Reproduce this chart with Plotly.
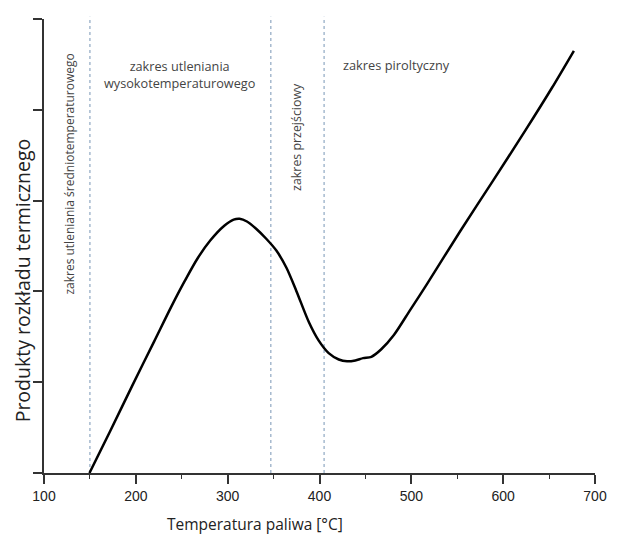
import plotly.graph_objects as go

# Data
temp = [149.5, 172, 196, 220, 238.5, 253, 267, 281, 296, 306.5, 313, 321, 331, 342, 353,
        364, 375, 388.5, 399, 410, 421, 430, 439, 447.5, 456.5, 467, 481, 499, 517,
        553, 589, 624, 653, 677]
prod = [0.0, 0.46, 0.96, 1.45, 1.83, 2.11, 2.36, 2.56, 2.72, 2.79, 2.80, 2.77, 2.69, 2.58, 2.45,
        2.26, 2.00, 1.66, 1.46, 1.32, 1.25, 1.23, 1.24, 1.265, 1.28, 1.36, 1.52, 1.80, 2.08,
        2.66, 3.22, 3.77, 4.24, 4.65]
zone_bounds = [150, 347, 405]
x_ticks = [100, 200, 300, 400, 500, 600, 700]

fig = go.Figure()
fig.add_trace(go.Scatter(x=temp, y=prod, mode="lines",
                         line=dict(color="black", width=2.5, shape="spline", smoothing=0.8),
                         cliponaxis=False, showlegend=False))

for xb in zone_bounds:
    fig.add_shape(type="line", x0=xb, x1=xb, y0=0, y1=1.005, xref="x", yref="paper",
                  line=dict(color="#8fa8c2", width=1.2, dash="dot"), layer="below")

grey = "#444444"
fig.add_annotation(x=69, y=174, text="zakres utleniania średniotemperaturowego",
                   showarrow=False, textangle=-90, font=dict(family="Open Sans", size=12, color=grey))
fig.add_annotation(x=182, y=74, text="zakres utleniania<br>wysokotemperaturowego",
                   showarrow=False, font=dict(family="Open Sans", size=12.7, color=grey))
fig.add_annotation(x=300, y=137, text="zakres przejściowy",
                   showarrow=False, textangle=-90, font=dict(family="Open Sans", size=12.4, color=grey))
fig.add_annotation(x=402, y=65, text="zakres piroltyczny",
                   showarrow=False, font=dict(family="Open Sans", size=12.8, color=grey))
fig.add_annotation(x=258, y=524, text="Temperatura paliwa [°C]",
                   showarrow=False, font=dict(family="Open Sans", size=15.5, color="#222222"))
fig.add_annotation(x=22, y=280, text="Produkty rozkładu termicznego",
                   showarrow=False, textangle=-90, font=dict(family="Open Sans", size=19.5, color="#222222"))

# convert pixel-placed annotations to paper coords
L, R, T, B = 44, 15, 19, 61
W, H = 619, 534
pw, ph = W - L - R, H - T - B
for a in fig.layout.annotations:
    px, py = a.x, a.y
    a.xref = "paper"; a.yref = "paper"
    a.x = (px - L) / pw
    a.y = (H - B - py) / ph
    a.xanchor = "center"; a.yanchor = "middle"

fig.update_layout(
    width=W, height=H, margin=dict(l=L, r=R, t=T, b=B),
    plot_bgcolor="white", paper_bgcolor="white",
    xaxis=dict(range=[100, 700], tickvals=x_ticks, ticktext=[str(v) for v in x_ticks],
               showgrid=False, zeroline=False, showline=True, linecolor="#333333", linewidth=1.8,
               ticks="outside", ticklen=9, tickwidth=1.5, tickcolor="#333333",
               minor=dict(dtick=50, tick0=100, ticks="outside", ticklen=4, tickwidth=1.2, tickcolor="#333333"),
               tickfont=dict(family="Liberation Sans", size=14, color="#222222")),
    yaxis=dict(range=[0, 5], dtick=1, showticklabels=False, showgrid=False, zeroline=False,
               showline=True, linecolor="#333333", linewidth=1.8,
               ticks="outside", ticklen=9, tickwidth=1.5, tickcolor="#333333"),
)

fig.write_html("out.html")
